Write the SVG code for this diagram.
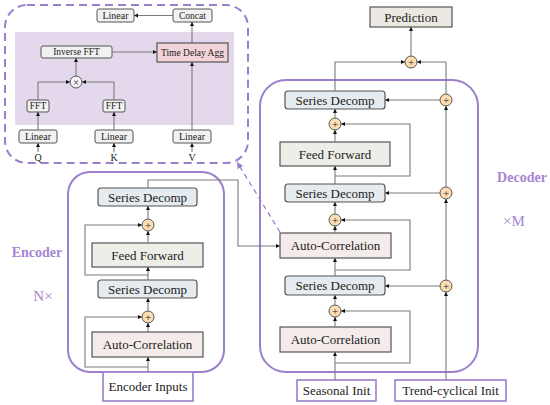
<svg xmlns="http://www.w3.org/2000/svg" width="550" height="405" viewBox="0 0 550 405" font-family="'Liberation Serif', 'Times New Roman', 'DejaVu Serif', serif">
<style>
text{font-family:'Liberation Serif','Times New Roman','DejaVu Serif',serif;fill:#222;text-anchor:middle;dominant-baseline:central}
.t13{font-size:13px}
.t10{font-size:10px}
.t9{font-size:9.5px}
.box{stroke:#555;stroke-width:1.2}
.sd{fill:#e5ebef}
.ff{fill:#eceee7}
.ac{fill:#f4ecea}
.sm{fill:#f1f1f1;stroke:#555;stroke-width:1}
.pl{fill:#fcdcb0;stroke:#555;stroke-width:1}
.ln{fill:none;stroke:#7a7a7a;stroke-width:1.1}
.lab{fill:#a585d2;font-weight:bold;font-size:14px}
.lab2{fill:#a585d2;font-size:15px}
.io{fill:#fff;stroke:#9b7fcc;stroke-width:1.6}
</style>
<defs>
<marker id="ah" viewBox="0 0 10 10" refX="10" refY="5" markerWidth="4" markerHeight="4" orient="auto"><path d="M0,0 L10,5 L0,10 z" fill="#111"/></marker>
<marker id="ahp" viewBox="0 0 10 10" refX="10" refY="5" markerWidth="5" markerHeight="5" orient="auto"><path d="M0,0 L10,5 L0,10 z" fill="#9b7fcc"/></marker>
</defs>

<!-- Attention detail -->
<g id="attention">
<rect x="5" y="5" width="243" height="158" rx="22" fill="none" stroke="#9b7fcc" stroke-width="2" stroke-dasharray="8 5"/>
<rect x="15" y="32" width="219" height="93" fill="#e3d8ec"/>
</g>
<g id="att-linear-out"><rect class="sm" x="97" y="9" width="37" height="13" rx="2"/><text class="t10" x="115.5" y="15.5">Linear</text></g>
<g id="att-concat"><rect class="sm" x="173" y="9" width="39" height="13" rx="2"/><text class="t9" x="192.5" y="15.5">Concat</text></g>
<g id="att-ifft"><rect class="sm" x="41" y="46" width="71" height="12" rx="2"/><text class="t9" x="76.5" y="52">Inverse FFT</text></g>
<g id="att-tda"><rect x="157" y="43" width="71" height="19" fill="#f2d3d9" stroke="#555" stroke-width="1.2"/><text class="t9" x="192.5" y="52.5">Time Delay Agg</text></g>
<g id="att-mul"><circle cx="76" cy="82" r="6" fill="#f4f0f6" stroke="#555" stroke-width="1"/><text x="76" y="82" style="font-size:10px">×</text></g>
<g id="att-fft-q"><rect class="sm" x="27" y="100" width="22" height="12" rx="2"/><text class="t9" x="38" y="106">FFT</text></g>
<g id="att-fft-k"><rect class="sm" x="103" y="100" width="22" height="12" rx="2"/><text class="t9" x="114" y="106">FFT</text></g>
<g id="att-linear-q"><rect class="sm" x="19" y="130" width="38" height="13" rx="2"/><text class="t10" x="38" y="136.5">Linear</text></g>
<g id="att-linear-k"><rect class="sm" x="95" y="130" width="38" height="13" rx="2"/><text class="t10" x="114" y="136.5">Linear</text></g>
<g id="att-linear-v"><rect class="sm" x="173" y="130" width="38" height="13" rx="2"/><text class="t10" x="192" y="136.5">Linear</text></g>
<g id="att-q"><text class="t10" x="38" y="157">Q</text></g>
<g id="att-k"><text class="t10" x="114" y="157">K</text></g>
<g id="att-v"><text class="t10" x="192" y="157">V</text></g>

<!-- Encoder -->
<g id="encoder">
<rect x="68" y="172" width="156" height="200" rx="22" fill="none" stroke="#9b7fcc" stroke-width="2"/>
<text class="lab" x="37" y="252">Encoder</text>
<text class="lab2" x="43" y="296">N×</text>
</g>
<g id="enc-sd1"><rect class="box sd" x="98" y="188" width="99" height="18" rx="3"/><text class="t13" x="147.5" y="197">Series Decomp</text></g>
<g id="enc-plus1"><circle class="pl" cx="148" cy="225" r="6"/><text x="148" y="225" style="font-size:11px">+</text></g>
<g id="enc-ff"><rect class="box ff" x="92" y="243" width="111" height="24"/><text class="t13" x="147.5" y="255">Feed Forward</text></g>
<g id="enc-sd2"><rect class="box sd" x="98" y="280" width="99" height="18" rx="3"/><text class="t13" x="147.5" y="289">Series Decomp</text></g>
<g id="enc-plus2"><circle class="pl" cx="148" cy="317" r="6"/><text x="148" y="317" style="font-size:11px">+</text></g>
<g id="enc-ac"><rect class="box ac" x="92" y="332" width="111" height="25"/><text class="t13" x="147.5" y="344.5">Auto-Correlation</text></g>
<g id="enc-inputs"><rect class="io" x="103" y="372" width="90" height="29"/><text class="t13" x="148" y="386.5">Encoder Inputs</text></g>

<!-- Decoder -->
<g id="decoder">
<rect x="260" y="80" width="218" height="292" rx="26" fill="none" stroke="#9b7fcc" stroke-width="2"/>
<text class="lab" x="522" y="177">Decoder</text>
<text class="lab2" x="514" y="221">×M</text>
</g>
<g id="prediction"><rect class="box" fill="#ece9e3" x="370" y="7" width="82" height="20"/><text class="t13" x="411" y="17">Prediction</text></g>
<g id="dec-plus-out"><circle class="pl" cx="411" cy="62" r="6"/><text x="411" y="62" style="font-size:11px">+</text></g>
<g id="dec-sd1"><rect class="box sd" x="285" y="91" width="100" height="18" rx="3"/><text class="t13" x="335" y="100">Series Decomp</text></g>
<g id="dec-tplus1"><circle class="pl" cx="446" cy="100" r="6"/><text x="446" y="100" style="font-size:11px">+</text></g>
<g id="dec-plus1"><circle class="pl" cx="335" cy="124" r="6"/><text x="335" y="124" style="font-size:11px">+</text></g>
<g id="dec-ff"><rect class="box ff" x="280" y="142" width="110" height="24"/><text class="t13" x="335" y="154">Feed Forward</text></g>
<g id="dec-sd2"><rect class="box sd" x="285" y="184" width="100" height="18" rx="3"/><text class="t13" x="335" y="193">Series Decomp</text></g>
<g id="dec-tplus2"><circle class="pl" cx="446" cy="193" r="6"/><text x="446" y="193" style="font-size:11px">+</text></g>
<g id="dec-plus2"><circle class="pl" cx="335" cy="220" r="6"/><text x="335" y="220" style="font-size:11px">+</text></g>
<g id="dec-ac2"><rect class="box ac" x="280" y="233" width="111" height="25"/><text class="t13" x="335.5" y="245.5">Auto-Correlation</text></g>
<g id="dec-sd3"><rect class="box sd" x="285" y="276" width="100" height="19" rx="3"/><text class="t13" x="335" y="285.5">Series Decomp</text></g>
<g id="dec-tplus3"><circle class="pl" cx="446" cy="286" r="6"/><text x="446" y="286" style="font-size:11px">+</text></g>
<g id="dec-plus3"><circle class="pl" cx="335" cy="311" r="6"/><text x="335" y="311" style="font-size:11px">+</text></g>
<g id="dec-ac1"><rect class="box ac" x="280" y="327" width="111" height="25"/><text class="t13" x="335.5" y="339.5">Auto-Correlation</text></g>
<g id="seasonal-init"><rect class="io" x="297" y="380" width="79" height="21"/><text class="t13" x="336.5" y="390.5">Seasonal Init</text></g>
<g id="trend-init"><rect class="io" x="395" y="380" width="111" height="21"/><text class="t13" x="450.5" y="390.5">Trend-cyclical Init</text></g>

<!-- Connectors -->
<g id="connectors">
<path class="ln" d="M38,152 V143" marker-end="url(#ah)"/>
<path class="ln" d="M114,152 V143" marker-end="url(#ah)"/>
<path class="ln" d="M192,152 V143" marker-end="url(#ah)"/>
<path class="ln" d="M38,130 V112" marker-end="url(#ah)"/>
<path class="ln" d="M114,130 V112" marker-end="url(#ah)"/>
<path class="ln" d="M38,100 V82 H70" marker-end="url(#ah)"/>
<path class="ln" d="M114,100 V82 H82" marker-end="url(#ah)"/>
<path class="ln" d="M76,76 V58" marker-end="url(#ah)"/>
<path class="ln" d="M112,52 H157" marker-end="url(#ah)"/>
<path class="ln" d="M192,130 V62" marker-end="url(#ah)"/>
<path class="ln" d="M192,43 V22" marker-end="url(#ah)"/>
<path class="ln" d="M173,15.5 H134" marker-end="url(#ah)"/>
<path d="M280,232 L237,162" fill="none" stroke="#9b7fcc" stroke-width="1.3" stroke-dasharray="5 4" marker-end="url(#ahp)"/>
<path class="ln" d="M148,372 V357" marker-end="url(#ah)"/>
<path class="ln" d="M148,332 V323" marker-end="url(#ah)"/>
<path class="ln" d="M148,311 V298" marker-end="url(#ah)"/>
<path class="ln" d="M148,280 V267" marker-end="url(#ah)"/>
<path class="ln" d="M148,243 V231" marker-end="url(#ah)"/>
<path class="ln" d="M148,219 V206" marker-end="url(#ah)"/>
<path class="ln" d="M148,367 H85 V317 H142" marker-end="url(#ah)"/>
<path class="ln" d="M148,275 H85 V225 H142" marker-end="url(#ah)"/>
<path class="ln" d="M148,188 V180 H238 V246 H280" marker-end="url(#ah)"/>
<path class="ln" d="M335,380 V352" marker-end="url(#ah)"/>
<path class="ln" d="M335,327 V317" marker-end="url(#ah)"/>
<path class="ln" d="M335,305 V295" marker-end="url(#ah)"/>
<path class="ln" d="M335,276 V258" marker-end="url(#ah)"/>
<path class="ln" d="M335,233 V226" marker-end="url(#ah)"/>
<path class="ln" d="M335,214 V202" marker-end="url(#ah)"/>
<path class="ln" d="M335,184 V166" marker-end="url(#ah)"/>
<path class="ln" d="M335,142 V130" marker-end="url(#ah)"/>
<path class="ln" d="M335,118 V109" marker-end="url(#ah)"/>
<path class="ln" d="M335,363 H410 V311 H341" marker-end="url(#ah)"/>
<path class="ln" d="M335,270 H410 V220 H341" marker-end="url(#ah)"/>
<path class="ln" d="M335,176 H410 V124 H341" marker-end="url(#ah)"/>
<path class="ln" d="M335,91 V62 H405" marker-end="url(#ah)"/>
<path class="ln" d="M411,56 V27" marker-end="url(#ah)"/>
<path class="ln" d="M446,380 V292" marker-end="url(#ah)"/>
<path class="ln" d="M440,286 H385" marker-end="url(#ah)"/>
<path class="ln" d="M446,280 V199" marker-end="url(#ah)"/>
<path class="ln" d="M440,193 H385" marker-end="url(#ah)"/>
<path class="ln" d="M446,187 V106" marker-end="url(#ah)"/>
<path class="ln" d="M440,100 H385" marker-end="url(#ah)"/>
<path class="ln" d="M446,94 V62 H417" marker-end="url(#ah)"/>
</g>
</svg>
